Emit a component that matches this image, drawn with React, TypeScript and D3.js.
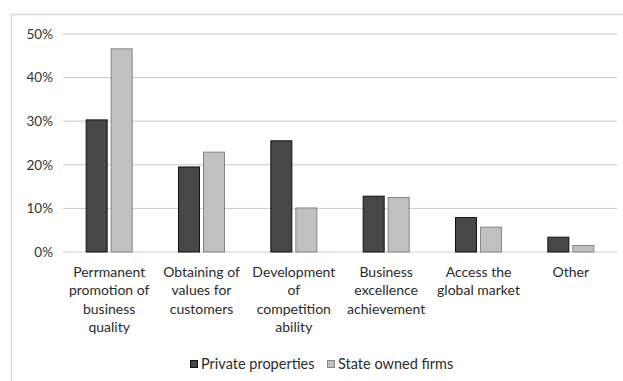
import React from "react";
import * as d3 from "d3";

const categories: string[][] = [
  ["Perrmanent", "promotion of", "business", "quality"],
  ["Obtaining of", "values for", "customers"],
  ["Development", "of", "competition", "ability"],
  ["Business", "excellence", "achievement"],
  ["Access the", "global market"],
  ["Other"],
];
const privateValues = [30.3, 19.5, 25.5, 12.8, 7.9, 3.4];
const stateValues = [46.6, 22.9, 10.1, 12.5, 5.7, 1.5];
const seriesNames = ["Private properties", "State owned firms"];
const yTicks = [0, 10, 20, 30, 40, 50];

const W = 623;
const H = 381;
const FONT = "Lato, 'Liberation Sans', sans-serif";

export default function App() {
  const left = 63;
  const right = 617;
  const top = 34;
  const bottom = 252;
  const x = d3.scaleBand<number>().domain(d3.range(categories.length)).range([left, right]);
  const y = d3.scaleLinear().domain([0, 50]).range([bottom, top]);
  const barW = 21;
  const gap = 4;
  const series = [
    { values: privateValues, fill: "#474747", stroke: "#111111" },
    { values: stateValues, fill: "#c0c0c0", stroke: "#858585" },
  ];
  return (
    <svg
      width={W}
      height={H}
      style={{ position: "absolute", left: 0, top: 0, background: "#fff" }}
      fontFamily={FONT}
    >
      <rect x={0} y={0} width={W} height={H} fill="#fff" />
      <line x1={11} x2={W} y1={14.5} y2={14.5} stroke="#d9d9d9" strokeWidth={1.5} />
      <line x1={11.5} x2={11.5} y1={14} y2={H} stroke="#d9d9d9" strokeWidth={1.5} />
      {yTicks.map((t) => (
        <g key={t}>
          <line x1={left} x2={right} y1={y(t)} y2={y(t)} stroke={t === 0 ? "#d0d0d0" : "#c8c8c8"} strokeWidth={1} />
          <text x={53} y={y(t)} dy="0.35em" textAnchor="end" fontSize={13.5} fill="#333">
            {t}%
          </text>
        </g>
      ))}
      {categories.map((_, i) => {
        const cx = (x(i) as number) + x.bandwidth() / 2;
        return series.map((s, j) => {
          const bx = j === 0 ? cx - gap / 2 - barW : cx + gap / 2;
          const v = s.values[i];
          return (
            <rect
              key={`${i}-${j}`}
              x={bx}
              y={y(v)}
              width={barW}
              height={y(0) - y(v)}
              fill={s.fill}
              stroke={s.stroke}
              strokeWidth={1}
            />
          );
        });
      })}
      {categories.map((lines, i) => {
        const cx = (x(i) as number) + x.bandwidth() / 2;
        return (
          <text key={i} textAnchor="middle" fontSize={14} fill="#2b2b2b">
            {lines.map((l, k) => (
              <tspan key={k} x={cx} y={277 + k * 18.3}>
                {l}
              </tspan>
            ))}
          </text>
        );
      })}
      <g>
        <rect x={190.5} y={360.5} width={7} height={7} fill="#474747" stroke="#111" />
        <text x={201} y={364} dy="0.35em" fontSize={14.5} fill="#2b2b2b">
          {seriesNames[0]}
        </text>
        <rect x={327.5} y={360.5} width={7} height={7} fill="#c0c0c0" stroke="#858585" />
        <text x={338} y={364} dy="0.35em" fontSize={14.5} fill="#2b2b2b">
          {seriesNames[1]}
        </text>
      </g>
    </svg>
  );
}
